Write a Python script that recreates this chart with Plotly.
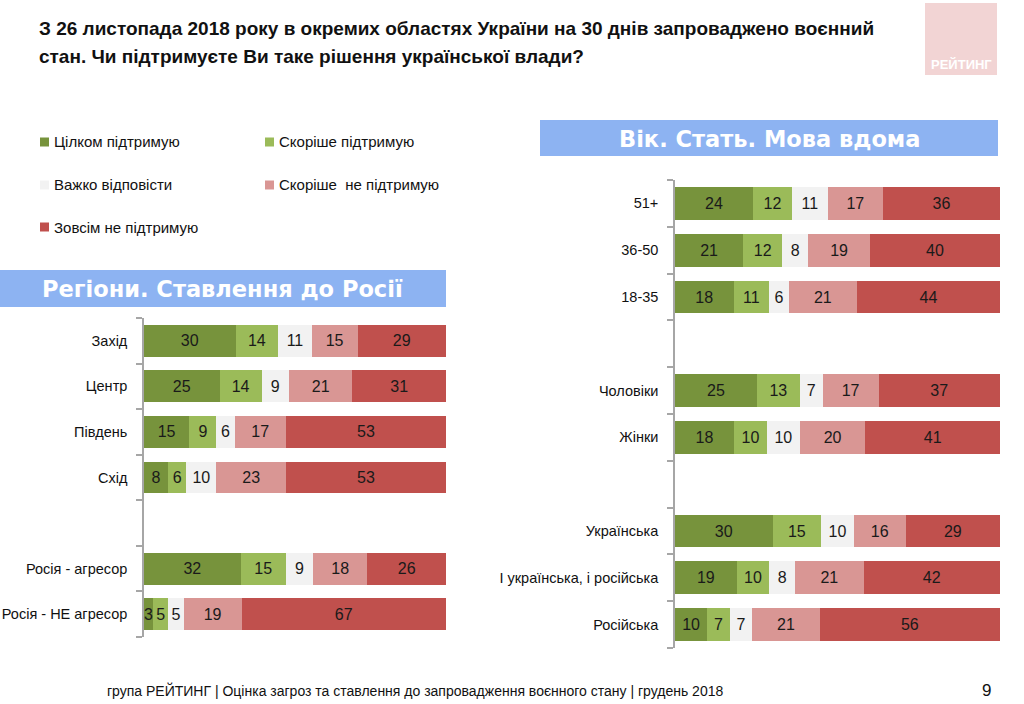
import plotly.graph_objects as go

# ---------------- data ----------------
series_names = ["Цілком підтримую", "Скоріше підтримую", "Важко відповісти",
                "Скоріше  не підтримую", "Зовсім не підтримую"]
series_colors = ["#77933C", "#9BBB59", "#F2F2F2", "#D99694", "#C0504D"]

left_categories = ["Захід", "Центр", "Південь", "Схід", None,
                   "Росія - агресор", "Росія - НЕ агресор"]
left_full = [30, 25, 15, 8, 32, 3]
left_rather = [14, 14, 9, 6, 15, 5]
left_hard = [11, 9, 6, 10, 9, 5]
left_rather_not = [15, 21, 17, 23, 18, 19]
left_not = [29, 31, 53, 53, 26, 67]

right_categories = ["51+", "36-50", "18-35", None, "Чоловіки", "Жінки", None,
                    "Українська", "І українська, і російська", "Російська"]
right_full = [24, 21, 18, 25, 18, 30, 19, 10]
right_rather = [12, 12, 11, 13, 10, 15, 10, 7]
right_hard = [11, 8, 6, 7, 10, 10, 8, 7]
right_rather_not = [17, 19, 21, 17, 20, 16, 21, 21]
right_not = [36, 40, 44, 37, 41, 29, 42, 56]

title_lines = ["З 26 листопада 2018 року в окремих областях України на 30 днів запроваджено воєнний",
               "стан. Чи підтримуєте Ви таке рішення української влади?"]
left_header = "Регіони. Ставлення до Росії"
right_header = "Вік. Стать. Мова вдома"
footer_text = "група РЕЙТИНГ | Оцінка загроз та ставлення до запровадження воєнного стану | грудень 2018"
page_number = "9"

# ---------------- styling ----------------
W, H = 1024, 704
SANS = "Liberation Sans, Arial, sans-serif"
BOLD_WIDE = "DejaVu Sans, Verdana, sans-serif"
AXIS_GRAY = "#A6A6A6"
HEADER_BLUE = "#8DB3F2"


def px(x):
    return x / W


def py(y):
    return 1 - y / H


fig = go.Figure()


def add_panel(categories, series, xaxis, yaxis):
    positions = [i for i, c in enumerate(categories) if c is not None]
    for name, color, vals in zip(series_names, series_colors, series):
        fig.add_trace(go.Bar(
            x=vals, y=positions, orientation="h", name=name,
            marker=dict(color=color, line=dict(width=0)),
            width=0.7,
            text=[str(v) for v in vals], textposition="inside",
            insidetextanchor="middle", textangle=0,
            textfont=dict(family=SANS, size=16, color="#1A1A1A"),
            xaxis=xaxis, yaxis=yaxis, showlegend=False, hoverinfo="x+y",
        ))
    return positions


lp = add_panel(left_categories,
               [left_full, left_rather, left_hard, left_rather_not, left_not], "x", "y")
rp = add_panel(right_categories,
               [right_full, right_rather, right_hard, right_rather_not, right_not], "x2", "y2")


def yaxis_cfg(categories, positions, domain):
    n = len(categories)
    return dict(
        domain=domain, range=[n - 0.5, -0.5], automargin=False,
        tickmode="array", tickvals=positions,
        ticktext=[c for c in categories if c is not None],
        ticks="", ticklabelstandoff=12,
        tickfont=dict(family=SANS, size=14.5, color="#111111"),
        showline=True, linecolor=AXIS_GRAY, linewidth=1.5,
        showgrid=False, zeroline=False,
        minor=dict(tickmode="linear", tick0=-0.5, dtick=1, ticks="outside",
                   ticklen=6, tickcolor=AXIS_GRAY, tickwidth=1.5, showgrid=False),
    )


xhidden = dict(range=[0, 100], visible=False, showgrid=False, zeroline=False, automargin=False)

shapes = []
annotations = []

# header boxes
shapes.append(dict(type="rect", xref="paper", yref="paper", x0=px(0), x1=px(446),
                   y0=py(307), y1=py(270), fillcolor=HEADER_BLUE, line=dict(width=0), layer="below"))
shapes.append(dict(type="rect", xref="paper", yref="paper", x0=px(540), x1=px(998),
                   y0=py(156), y1=py(120), fillcolor=HEADER_BLUE, line=dict(width=0), layer="below"))
annotations.append(dict(text="<b>" + left_header + "</b>", x=px(222), y=py(289), xref="paper", yref="paper",
                        showarrow=False, xanchor="center", yanchor="middle",
                        font=dict(family=BOLD_WIDE, size=22.5, color="white")))
annotations.append(dict(text="<b>" + right_header + "</b>", x=px(769), y=py(139), xref="paper", yref="paper",
                        showarrow=False, xanchor="center", yanchor="middle",
                        font=dict(family=BOLD_WIDE, size=22.5, color="white")))

# logo
shapes.append(dict(type="rect", xref="paper", yref="paper", x0=px(925), x1=px(997),
                   y0=py(75), y1=py(3), fillcolor="#F2D4D4", line=dict(width=0), layer="below"))
annotations.append(dict(text="<b>РЕЙТИНГ</b>", x=px(961), y=py(64), xref="paper", yref="paper",
                        showarrow=False, xanchor="center", yanchor="middle",
                        font=dict(family=SANS, size=13, color="white")))

# title
for i, line in enumerate(title_lines):
    annotations.append(dict(text="<b>" + line + "</b>", x=px(37), y=py(28 + 29 * i), xref="paper", yref="paper",
                            showarrow=False, xanchor="left", yanchor="middle",
                            font=dict(family=SANS, size=19, color="#111111")))

# legend (drawn manually)
legend_pos = [(40, 142), (265, 142), (40, 185), (265, 185), (40, 227)]
for (lx, ly), name, color in zip(legend_pos, series_names, series_colors):
    shapes.append(dict(type="rect", xref="paper", yref="paper", x0=px(lx), x1=px(lx + 9),
                       y0=py(ly + 4.5), y1=py(ly - 4.5), fillcolor=color, line=dict(width=0)))
    annotations.append(dict(text=name, x=px(lx + 12), y=py(ly), xref="paper", yref="paper",
                            showarrow=False, xanchor="left", yanchor="middle",
                            font=dict(family=SANS, size=15, color="#111111")))

# footer
annotations.append(dict(text=footer_text, x=px(105), y=py(690), xref="paper", yref="paper",
                        showarrow=False, xanchor="left", yanchor="middle",
                        font=dict(family=SANS, size=14, color="#111111")))
annotations.append(dict(text=page_number, x=px(986), y=py(690), xref="paper", yref="paper",
                        showarrow=False, xanchor="center", yanchor="middle",
                        font=dict(family=SANS, size=17, color="#111111")))

fig.update_layout(
    width=W, height=H, margin=dict(l=0, r=0, t=0, b=0),
    paper_bgcolor="white", plot_bgcolor="rgba(0,0,0,0)",
    barmode="stack", barnorm="percent",
    uniformtext=dict(minsize=16, mode="show"),
    xaxis=dict(domain=[px(144), px(446)], anchor="y", **xhidden),
    yaxis=yaxis_cfg(left_categories, lp, [py(637), py(318)]) | dict(anchor="x"),
    xaxis2=dict(domain=[px(675), px(1000)], anchor="y2", **xhidden),
    yaxis2=yaxis_cfg(right_categories, rp, [py(648), py(180)]) | dict(anchor="x2"),
    shapes=shapes, annotations=annotations, showlegend=False,
    font=dict(family=SANS),
)

fig.write_html(
    "out.html",
    config={"displayModeBar": False},
    post_script="document.body.style.margin='0';document.body.style.overflow='hidden';",
)
